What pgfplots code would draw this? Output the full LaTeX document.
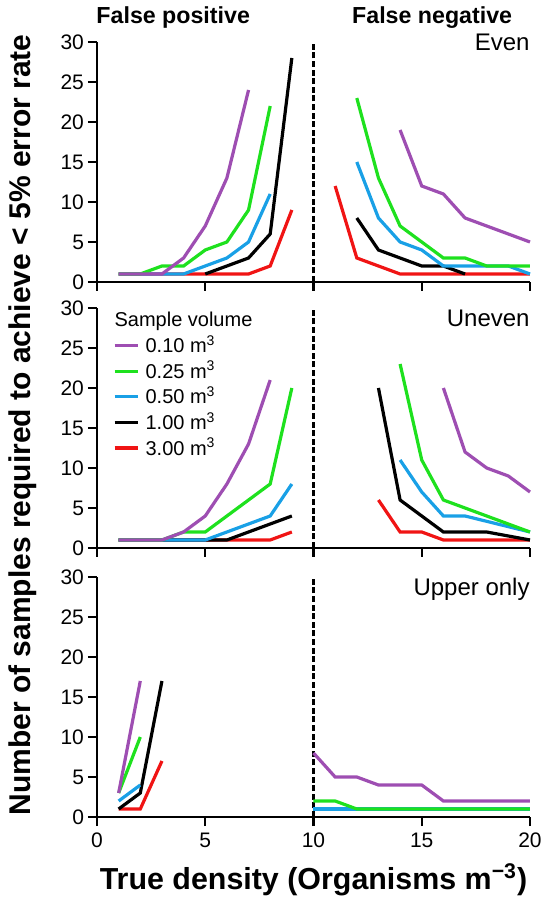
\documentclass[border=0pt]{standalone}
\usepackage{fontspec}
\setmainfont{Liberation Sans}
\usepackage{pgfplots}
\pgfplotsset{compat=1.18}

\definecolor{cpur}{RGB}{158,78,178}
\definecolor{cgrn}{RGB}{30,225,30}
\definecolor{cblu}{RGB}{25,160,230}
\definecolor{cred}{RGB}{240,20,20}

\pgfplotsset{
  panel/.style={
    scale only axis, width=216.5pt, height=120pt,
    xmin=0, xmax=20, ymin=0, ymax=30,
    axis x line*=bottom, axis y line*=left,
    xtick={0,5,...,20}, ytick={0,5,...,30},
    tick align=outside, major tick length=4.5pt,
    axis line style={line width=1.2pt},
    every tick/.style={black, line width=1.2pt},
    tick label style={font=\fontsize{10.5}{11}\selectfont},
    yticklabel style={xshift=1.5pt},
    /pgf/number format/assume math mode=true,
    every axis plot/.append style={line width=1.6pt, mark=none},
    clip=false,
  },
  divider/.style={black, line width=1.4pt, dash pattern=on 3pt off 1.3pt, forget plot},
}
\tikzset{tag/.style={anchor=north east, font=\fontsize{12}{13}\selectfont, inner sep=0pt}}

\begin{document}
\begin{tikzpicture}
\useasboundingbox (-48.5pt,-41.5pt) rectangle (223.5pt,408.5pt);

% ---- top: Even
\begin{axis}[panel, at={(0,267.5pt)}, xticklabels={}]
\addplot[divider] coordinates {(10,0)(10,30)};
% false positive
\addplot[cred] coordinates {(1,1)(2,1)(3,1)(4,1)(5,1)(6,1)(7,1)(8,2)(9,9)};
\addplot[black] coordinates {(5,1)(6,2)(7,3)(8,6)(9,28)};
\addplot[cblu] coordinates {(1,1)(2,1)(3,1)(4,1)(5,2)(6,3)(7,5)(8,11)};
\addplot[cgrn] coordinates {(1,1)(2,1)(3,2)(4,2)(5,4)(6,5)(7,9)(8,22)};
\addplot[cpur] coordinates {(1,1)(2,1)(3,1)(4,3)(5,7)(6,13)(7,24)};
% false negative
\addplot[cred] coordinates {(11,12)(12,3)(13,2)(14,1)(15,1)(16,1)(17,1)(18,1)(19,1)(20,1)};
\addplot[black] coordinates {(12,8)(13,4)(14,3)(15,2)(16,2)(17,1)};
\addplot[cblu] coordinates {(12,15)(13,8)(14,5)(15,4)(16,2)(17,2)(18,2)(19,2)(20,1)};
\addplot[cgrn] coordinates {(12,23)(13,13)(14,7)(15,5)(16,3)(17,3)(18,2)(19,2)(20,2)};
\addplot[cpur] coordinates {(14,19)(15,12)(16,11)(17,8)(18,7)(19,6)(20,5)};
\node[tag] at (rel axis cs:1,1.035) {Even};
\node[font=\bfseries\fontsize{11.6}{13}\selectfont] at (rel axis cs:0.176,1.1) {False positive};
\node[font=\bfseries\fontsize{11.6}{13}\selectfont] at (rel axis cs:0.774,1.1) {False negative};
\end{axis}

% ---- middle: Uneven
\begin{axis}[panel, at={(0,134.5pt)}, xticklabels={},
  legend style={at={(rel axis cs:0.036,1.0)}, anchor=north west, draw=none, fill=none,
    font=\fontsize{10}{11}\selectfont, row sep=-1.2pt, inner sep=0pt,
    /tikz/every odd column/.append style={column sep=1pt}},
  legend cell align=left,
  legend image code/.code={\draw[#1, line width=1.6pt] (0pt,0pt) -- (11.7pt,0pt);}]
\addplot[divider] coordinates {(10,0)(10,30)};
\addplot[cred, forget plot] coordinates {(1,1)(2,1)(3,1)(4,1)(5,1)(6,1)(7,1)(8,1)(9,2)};
\addplot[black, forget plot] coordinates {(1,1)(2,1)(3,1)(4,1)(5,1)(6,1)(7,2)(8,3)(9,4)};
\addplot[cblu, forget plot] coordinates {(1,1)(2,1)(3,1)(4,1)(5,1)(6,2)(7,3)(8,4)(9,8)};
\addplot[cgrn, forget plot] coordinates {(1,1)(2,1)(3,1)(4,2)(5,2)(6,4)(7,6)(8,8)(9,20)};
\addplot[cpur, forget plot] coordinates {(1,1)(2,1)(3,1)(4,2)(5,4)(6,8)(7,13)(8,21)};
\addplot[cred, forget plot] coordinates {(13,6)(14,2)(15,2)(16,1)(17,1)(18,1)(19,1)(20,1)};
\addplot[black, forget plot] coordinates {(13,20)(14,6)(15,4)(16,2)(17,2)(18,2)(20,1)};
\addplot[cblu, forget plot] coordinates {(14,11)(15,7)(16,4)(17,4)(20,2)};
\addplot[cgrn, forget plot] coordinates {(14,23)(15,11)(16,6)(17,5)(18,4)(19,3)(20,2)};
\addplot[cpur, forget plot] coordinates {(16,20)(17,12)(18,10)(19,9)(20,7)};
\addlegendimage{empty legend}
\addlegendentry{\hspace{-15.5pt}Sample volume}
\addlegendimage{cpur}\addlegendentry{0.10 m\textsuperscript{3}}
\addlegendimage{cgrn}\addlegendentry{0.25 m\textsuperscript{3}}
\addlegendimage{cblu}\addlegendentry{0.50 m\textsuperscript{3}}
\addlegendimage{black}\addlegendentry{1.00 m\textsuperscript{3}}
\addlegendimage{cred}\addlegendentry{3.00 m\textsuperscript{3}}
\node[tag] at (rel axis cs:1,0.995) {Uneven};
\end{axis}

% ---- bottom: Upper only
\begin{axis}[panel, at={(0,0pt)}]
\addplot[divider] coordinates {(10,0)(10,30)};
\addplot[cred] coordinates {(1,1)(2,1)(3,7)};
\addplot[black] coordinates {(1,1)(2,3)(3,17)};
\addplot[cblu] coordinates {(1,2)(2,4)};
\addplot[cgrn] coordinates {(1,3)(2,10)};
\addplot[cpur] coordinates {(1,3)(2,17)};
\addplot[cblu] coordinates {(10,1)(11,1)(12,1)(13,1)(14,1)(15,1)(16,1)(17,1)(18,1)(19,1)(20,1)};
\addplot[cgrn] coordinates {(10,2)(11,2)(12,1)(13,1)(14,1)(15,1)(16,1)(17,1)(18,1)(19,1)(20,1)};
\addplot[cpur] coordinates {(10,8)(11,5)(12,5)(13,4)(14,4)(15,4)(16,2)(17,2)(18,2)(19,2)(20,2)};
\node[tag] at (rel axis cs:1,0.995) {Upper only};
\end{axis}

% ---- shared labels
\node[rotate=90, font=\bfseries\fontsize{15}{17}\selectfont] at (-37pt,196pt)
  {Number of samples required to achieve < 5\% error rate};
\node[font=\bfseries\fontsize{15.2}{17}\selectfont] at (108.25pt,-31.5pt)
  {True density (Organisms m\textsuperscript{−3})};
\end{tikzpicture}
\end{document}
